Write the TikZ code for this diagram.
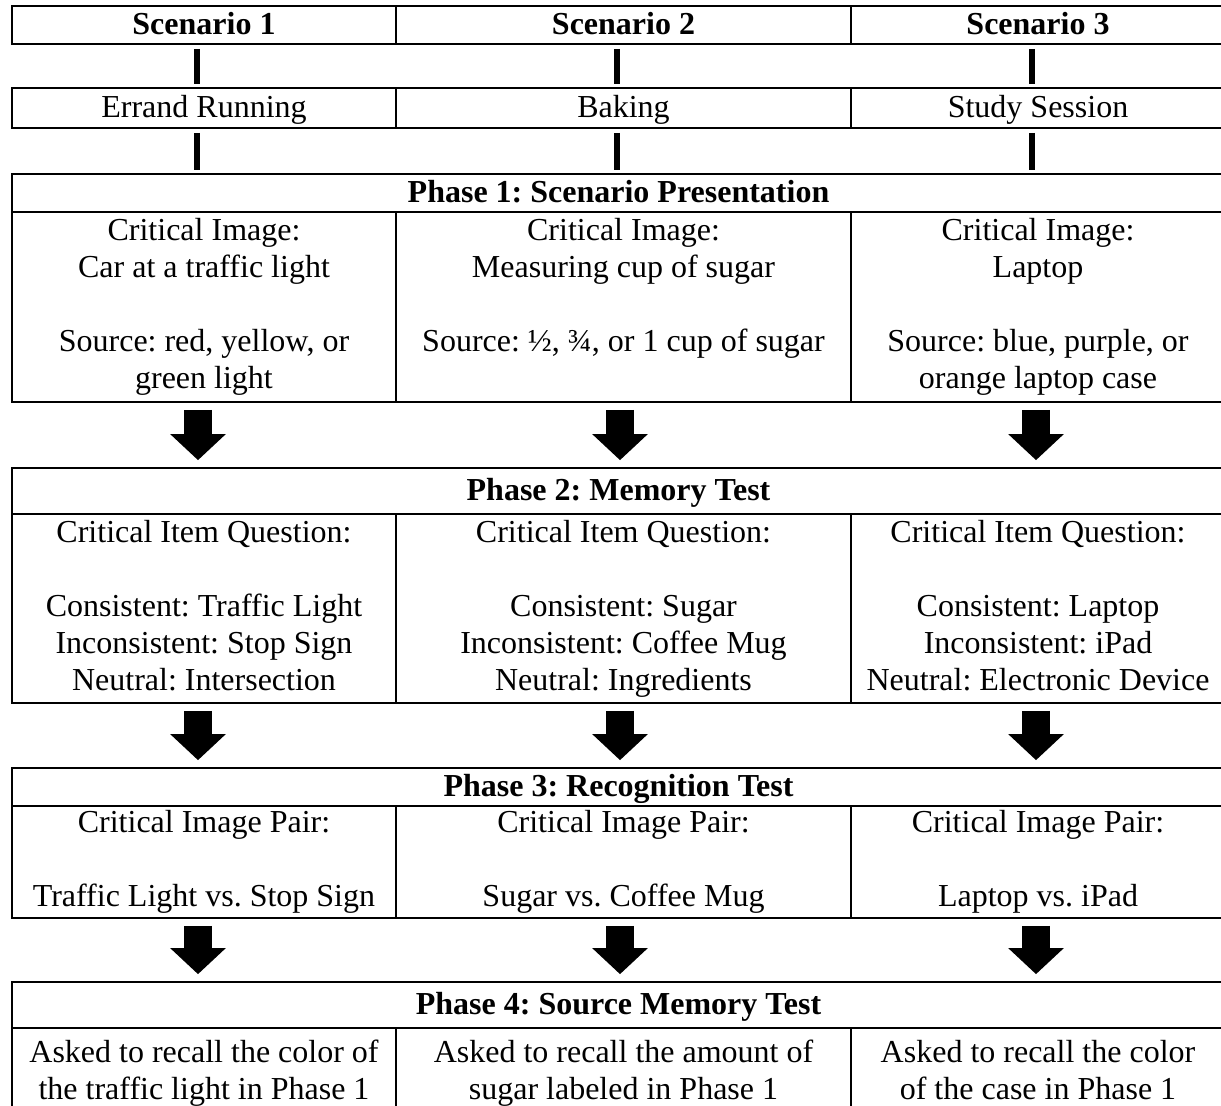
\documentclass[tikz,border=0pt]{standalone}
\usepackage{fontspec}
\setmainfont{Liberation Serif}
\usetikzlibrary{arrows.meta,calc,positioning}
\frenchspacing
\tikzset{
  cell/.style={draw, line width=0.7pt, inner sep=0pt, align=center,
    font=\fontsize{12pt}{13.9pt}\selectfont,
    execute at begin node={\rule{0pt}{9.7pt}},
    execute at end node={\rule[-2.6pt]{0pt}{2.6pt}}},
  head/.style={cell, font=\fontsize{12pt}{13.9pt}\selectfont\bfseries},
  col1/.style={minimum width=144pt},
  col2/.style={minimum width=170.625pt},
  col3/.style={minimum width=140.25pt},
  fullrow/.style={minimum width=454.875pt},
  bar/.style={line width=2.3pt, shorten <=1.5pt, shorten >=1.3pt},
  blockarrow/.style={line width=10.5pt, -{Triangle[length=9.75pt,width=20.25pt]},
    shorten <=2.6pt, shorten >=2.6pt}
}

\begin{document}
\begin{tikzpicture}[x=0.375pt, y=-0.375pt]
\useasboundingbox (0,0) rectangle (1221,1105);
\clip (0,0) rectangle (1221,1105);

% scenarios and tasks
\node[head, col1, minimum height=14.25pt] (scen1) at (204,25) {Scenario 1};
\node[head, col2, minimum height=14.25pt] (scen2) at (623.5,25) {Scenario 2};
\node[head, col3, minimum height=14.25pt] (scen3) at (1038,25) {Scenario 3};
\node[cell, col1, minimum height=15pt] (task1) at (204,108) {Errand Running};
\node[cell, col2, minimum height=15pt] (task2) at (623.5,108) {Baking};
\node[cell, col3, minimum height=15pt] (task3) at (1038,108) {Study Session};

% phase 1
\node[head, fullrow, minimum height=14.25pt] (ph1) at (618.5,193) {Phase 1: Scenario Presentation};
\node[cell, col1, minimum height=71.25pt] (img1) at (204,307) {Critical Image:\\Car at a traffic light\\~\\Source: red, yellow, or\\green light};
\node[cell, col2, minimum height=71.25pt] (img2) at (623.5,307) {Critical Image:\\Measuring cup of sugar\\~\\Source: ½, ¾, or 1 cup of sugar\\~};
\node[cell, col3, minimum height=71.25pt] (img3) at (1038,307) {Critical Image:\\Laptop\\~\\Source: blue, purple, or\\orange laptop case};

% phase 2
\node[head, fullrow, minimum height=17.25pt] (ph2) at (618.5,491) {Phase 2: Memory Test};
\node[cell, col1, minimum height=70.875pt] (item1) at (204,608.5) {Critical Item Question:\\~\\Consistent: Traffic Light\\Inconsistent: Stop Sign\\Neutral: Intersection};
\node[cell, col2, minimum height=70.875pt] (item2) at (623.5,608.5) {Critical Item Question:\\~\\Consistent: Sugar\\Inconsistent: Coffee Mug\\Neutral: Ingredients};
\node[cell, col3, minimum height=70.875pt] (item3) at (1038,608.5) {Critical Item Question:\\~\\Consistent: Laptop\\Inconsistent: iPad\\Neutral: Electronic Device};

% phase 3
\node[head, fullrow, minimum height=14.25pt] (ph3) at (618.5,787) {Phase 3: Recognition Test};
\node[cell, col1, minimum height=42pt] (pair1) at (204,862) {Critical Image Pair:\\~\\Traffic Light vs. Stop Sign};
\node[cell, col2, minimum height=42pt] (pair2) at (623.5,862) {Critical Image Pair:\\~\\Sugar vs. Coffee Mug};
\node[cell, col3, minimum height=42pt] (pair3) at (1038,862) {Critical Image Pair:\\~\\Laptop vs. iPad};

% phase 4
\node[head, fullrow, minimum height=17.25pt] (ph4) at (618.5,1005) {Phase 4: Source Memory Test};
\node[cell, col1, minimum height=33.75pt] (recall1) at (204,1073) {Asked to recall the color of\\the traffic light in Phase 1};
\node[cell, col2, minimum height=33.75pt] (recall2) at (623.5,1073) {Asked to recall the amount of\\sugar labeled in Phase 1};
\node[cell, col3, minimum height=33.75pt] (recall3) at (1038,1073) {Asked to recall the color\\of the case in Phase 1};

% connectors
\coordinate (b1) at (197,0);
\coordinate (b2) at (617,0);
\coordinate (b3) at (1032,0);
\coordinate (a1) at (198,0);
\coordinate (a2) at (620,0);
\coordinate (a3) at (1036,0);
\foreach \c in {1,2,3} {
  \draw[bar] (scen\c.south -| b\c) -- (task\c.north -| b\c);
  \draw[bar] (task\c.south -| b\c) -- (ph1.north -| b\c);
  \draw[blockarrow] (img\c.south -| a\c) -- (ph2.north -| a\c);
  \draw[blockarrow] (item\c.south -| a\c) -- (ph3.north -| a\c);
  \draw[blockarrow] (pair\c.south -| a\c) -- (ph4.north -| a\c);
}
\end{tikzpicture}
\end{document}
